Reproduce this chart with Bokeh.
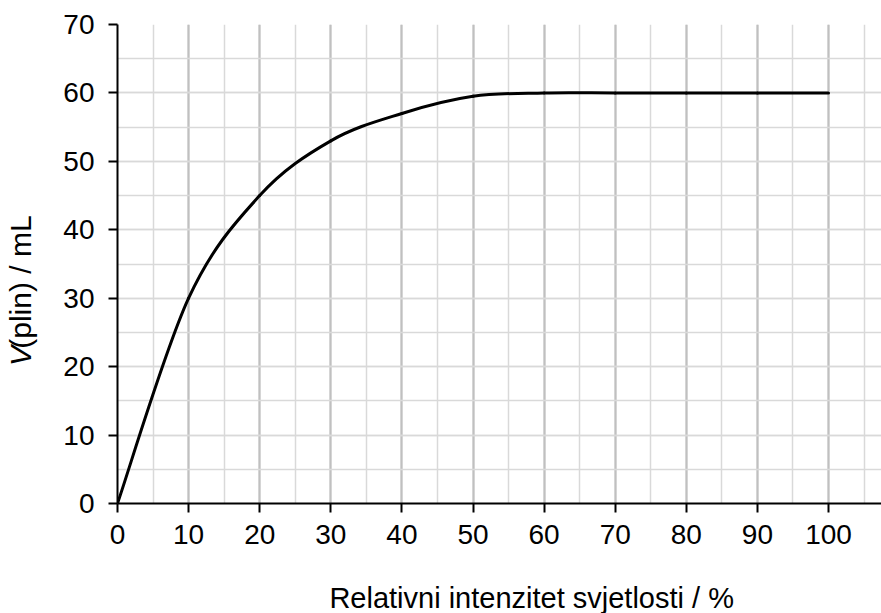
import numpy as np
from bokeh.plotting import figure
from bokeh.layouts import row
from bokeh.models import Label, SingleIntervalTicker, Range1d
from bokeh.core.properties import value
from bokeh.embed import file_html
from bokeh.resources import INLINE

# Data
intensity = [0, 10, 20, 30, 40, 50, 60, 70, 80, 90, 100]
volume = [0, 30, 45, 53, 57, 59.5, 60, 60, 60, 60, 60]

x_title = "Relativni intenzitet svjetlosti / %"
y_title_italic = "V"
y_title_rest = "(plin) / mL"

FONT = "Liberation Sans"
W, H = 881, 613
TOP, BOTTOM = 24, 110
TITLE_W = 60

# ---- main chart ----
p = figure(width=W - TITLE_W, height=H, output_backend="svg",
           toolbar_location=None,
           x_range=Range1d(0, 107.45), y_range=Range1d(0, 70),
           min_border_left=117 - TITLE_W, min_border_right=0,
           min_border_top=TOP, min_border_bottom=BOTTOM)
p.outline_line_color = None
p.background_fill_color = "white"
p.border_fill_color = "white"

# Smoothed line (Excel-style Bezier through the data points)
xs = np.array(intensity, float)
ys = np.array(volume, float)
xp = np.concatenate([[xs[0]], xs, [xs[-1]]])
yp = np.concatenate([[ys[0]], ys, [ys[-1]]])
n = len(xs)
x0, y0, x1, y1, cx0, cy0, cx1, cy1 = ([] for _ in range(8))
for i in range(n - 1):
    j = i + 1
    x0.append(xp[j]); y0.append(yp[j])
    x1.append(xp[j + 1]); y1.append(yp[j + 1])
    cx0.append(xp[j] + (xp[j + 1] - xp[j - 1]) / 6)
    cy0.append(yp[j] + (yp[j + 1] - yp[j - 1]) / 6)
    cx1.append(xp[j + 1] - (xp[j + 2] - xp[j]) / 6)
    cy1.append(yp[j + 1] - (yp[j + 2] - yp[j]) / 6)
p.bezier(x0=x0, y0=y0, x1=x1, y1=y1, cx0=cx0, cy0=cy0, cx1=cx1, cy1=cy1,
         line_color="black", line_width=3, line_cap="round")

# Axes
for ax in (p.xaxis[0], p.yaxis[0]):
    ax.ticker = SingleIntervalTicker(interval=10, num_minor_ticks=2)
    ax.axis_line_color = "black"
    ax.axis_line_width = 2
    ax.major_tick_line_color = "black"
    ax.major_tick_line_width = 2
    ax.major_tick_out = 9
    ax.major_tick_in = 0
    ax.minor_tick_line_color = None
    ax.major_label_text_font = FONT
    ax.major_label_text_font_size = "28px"
    ax.major_label_text_color = "black"
    ax.axis_label = None
p.xaxis.major_label_standoff = 12
p.yaxis.major_label_standoff = 14

# Grids
p.xgrid.grid_line_color = "#c0c0c0"
p.xgrid.grid_line_width = 2.2
p.xgrid.minor_grid_line_color = "#d9d9d9"
p.xgrid.minor_grid_line_width = 1.5
p.ygrid.grid_line_color = "#d9d9d9"
p.ygrid.grid_line_width = 1.5
p.ygrid.minor_grid_line_color = "#d9d9d9"
p.ygrid.minor_grid_line_width = 1.5

# x-axis title (in the lower panel so it is not clipped)
p.add_layout(Label(x=29.8, y=-13.8, text=x_title, text_font=FONT,
                   text_font_size="29px", text_color="black",
                   text_align="left", text_baseline="alphabetic"), "below")

# ---- narrow strip holding the rotated y-axis title (pixel coordinates) ----
t = figure(width=TITLE_W, height=H, output_backend="svg",
           toolbar_location=None, x_axis_type=None, y_axis_type=None,
           x_range=Range1d(0, TITLE_W), y_range=Range1d(0, H),
           min_border_left=0, min_border_right=0, min_border_top=0,
           min_border_bottom=0)
t.grid.visible = False
t.outline_line_color = None
t.background_fill_color = "white"
t.border_fill_color = "white"

v_bottom = H - 370 - 67     # bottom end of the title (empirical offset)
v_adv = 0.667 * 30 + 2      # advance of the italic "V"
t.text(x=[20], y=[v_bottom], text=[y_title_italic], angle=np.pi / 2,
       text_font=value(FONT), text_font_size="30px", text_font_style="italic",
       text_color="black", text_align="left", text_baseline="middle")
t.text(x=[20], y=[v_bottom + v_adv], text=[y_title_rest],
       angle=np.pi / 2, text_font=value(FONT), text_font_size="30px",
       text_color="black", text_align="left", text_baseline="middle")

layout = row(t, p, spacing=0)
open("out.html", "w").write(file_html(layout, INLINE))
